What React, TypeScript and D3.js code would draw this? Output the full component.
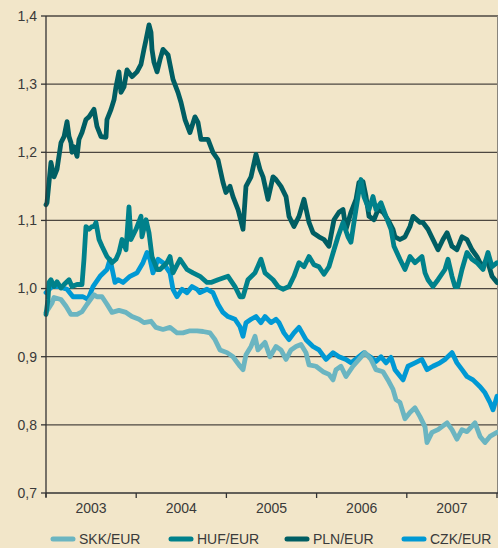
import React, { useEffect, useRef } from "react";
import * as d3 from "d3";

// time in years since start of 2003, value = index
const skk: [number, number][] = [[0,0.965],[.067,0.979],[.089,0.987],[.166,0.984],[.222,0.974],[.277,0.962],[.344,0.962],[.399,0.966],[.455,0.977],[.532,0.991],[.565,0.988],[.621,0.988],[.676,0.977],[.732,0.965],[.809,0.968],[.887,0.965],[.953,0.959],[1.031,0.955],[1.086,0.950],[1.164,0.952],[1.219,0.943],[1.297,0.940],[1.375,0.943],[1.452,0.935],[1.519,0.935],[1.596,0.938],[1.674,0.938],[1.741,0.937],[1.818,0.935],[1.874,0.925],[1.929,0.910],[2.007,0.906],[2.073,0.900],[2.151,0.886],[2.184,0.881],[2.217,0.903],[2.273,0.915],[2.317,0.930],[2.350,0.910],[2.428,0.921],[2.483,0.900],[2.550,0.915],[2.605,0.910],[2.661,0.896],[2.716,0.910],[2.772,0.915],[2.827,0.918],[2.882,0.906],[2.916,0.888],[2.993,0.886],[3.071,0.878],[3.137,0.874],[3.182,0.866],[3.215,0.881],[3.270,0.886],[3.326,0.871],[3.403,0.886],[3.470,0.896],[3.536,0.906],[3.603,0.896],[3.658,0.881],[3.736,0.878],[3.791,0.866],[3.847,0.852],[3.880,0.837],[3.924,0.833],[3.980,0.809],[4.035,0.818],[4.091,0.825],[4.146,0.812],[4.202,0.797],[4.224,0.774],[4.279,0.789],[4.346,0.793],[4.446,0.803],[4.501,0.793],[4.556,0.779],[4.612,0.793],[4.667,0.790],[4.756,0.803],[4.812,0.783],[4.867,0.774],[4.922,0.783],[5.0,0.789]];

const huf: [number, number][] = [[0,0.962],[.022,0.984],[.033,1.009],[.055,1.013],[.089,1.003],[.122,1.010],[.166,1.001],[.200,1.006],[.255,1.013],[.288,1.003],[.344,1.006],[.399,1.006],[.421,1.043],[.443,1.091],[.477,1.087],[.510,1.091],[.532,1.091],[.554,1.097],[.588,1.072],[.621,1.062],[.676,1.047],[.732,1.038],[.776,1.043],[.809,1.053],[.843,1.072],[.887,1.057],[.920,1.120],[.942,1.072],[.998,1.087],[1.053,1.106],[1.064,1.076],[1.109,1.101],[1.142,1.082],[1.175,1.047],[1.231,1.028],[1.264,1.028],[1.341,1.038],[1.375,1.047],[1.408,1.023],[1.486,1.043],[1.563,1.028],[1.630,1.023],[1.707,1.018],[1.785,1.009],[1.829,1.009],[1.907,1.013],[2.018,1.018],[2.095,1.003],[2.151,0.988],[2.184,0.988],[2.239,1.013],[2.317,1.023],[2.383,1.043],[2.428,1.023],[2.517,1.013],[2.572,1.003],[2.627,0.999],[2.694,1.003],[2.749,1.018],[2.805,1.038],[2.860,1.032],[2.916,1.047],[2.971,1.035],[3.026,1.032],[3.082,1.021],[3.137,1.032],[3.193,1.057],[3.237,1.076],[3.293,1.097],[3.348,1.076],[3.381,1.068],[3.414,1.097],[3.459,1.135],[3.492,1.160],[3.525,1.135],[3.581,1.116],[3.625,1.135],[3.658,1.116],[3.714,1.126],[3.769,1.106],[3.825,1.087],[3.858,1.062],[3.924,1.043],[3.980,1.028],[4.035,1.047],[4.091,1.038],[4.168,1.047],[4.202,1.023],[4.235,1.013],[4.290,1.003],[4.346,1.013],[4.423,1.028],[4.457,1.043],[4.501,1.018],[4.534,1.003],[4.567,1.003],[4.612,1.028],[4.667,1.053],[4.723,1.043],[4.778,1.038],[4.845,1.028],[4.900,1.053],[4.945,1.032],[5.0,1.038]];

const pln: [number, number][] = [[0,1.123],[.011,1.126],[.055,1.185],[.089,1.164],[.122,1.175],[.166,1.214],[.200,1.223],[.233,1.245],[.255,1.223],[.277,1.214],[.288,1.200],[.310,1.208],[.344,1.194],[.366,1.219],[.399,1.229],[.443,1.248],[.477,1.252],[.532,1.263],[.565,1.238],[.610,1.223],[.665,1.222],[.676,1.248],[.721,1.263],[.754,1.277],[.776,1.296],[.809,1.318],[.831,1.288],[.865,1.296],[.898,1.321],[.920,1.317],[.953,1.311],[1.009,1.318],[1.053,1.329],[1.086,1.351],[1.109,1.365],[1.142,1.387],[1.164,1.376],[1.175,1.351],[1.197,1.332],[1.231,1.318],[1.264,1.336],[1.297,1.351],[1.353,1.343],[1.408,1.307],[1.463,1.288],[1.497,1.273],[1.541,1.248],[1.596,1.229],[1.652,1.252],[1.685,1.244],[1.718,1.219],[1.796,1.219],[1.851,1.200],[1.907,1.189],[1.962,1.156],[1.995,1.141],[2.040,1.150],[2.073,1.135],[2.129,1.116],[2.184,1.087],[2.217,1.150],[2.273,1.164],[2.328,1.197],[2.372,1.175],[2.406,1.164],[2.461,1.131],[2.517,1.164],[2.550,1.160],[2.605,1.150],[2.661,1.135],[2.694,1.106],[2.749,1.091],[2.805,1.106],[2.860,1.131],[2.916,1.097],[2.960,1.082],[3.026,1.076],[3.082,1.072],[3.137,1.062],[3.193,1.101],[3.248,1.112],[3.293,1.116],[3.326,1.087],[3.381,1.112],[3.437,1.131],[3.470,1.156],[3.514,1.157],[3.548,1.135],[3.581,1.106],[3.636,1.101],[3.681,1.116],[3.736,1.112],[3.791,1.101],[3.847,1.087],[3.869,1.076],[3.924,1.072],[3.980,1.076],[4.035,1.091],[4.069,1.106],[4.146,1.097],[4.179,1.097],[4.235,1.087],[4.290,1.072],[4.346,1.057],[4.401,1.072],[4.446,1.082],[4.501,1.062],[4.556,1.057],[4.612,1.076],[4.667,1.072],[4.723,1.057],[4.778,1.047],[4.834,1.032],[4.889,1.043],[4.945,1.018],[5.0,1.009]];

const czk: [number, number][] = [[0,0.994],[.067,1.003],[.133,1.003],[.233,0.999],[.299,0.988],[.410,0.988],[.466,0.984],[.521,1.003],[.599,1.018],[.676,1.028],[.710,1.043],[.765,1.009],[.798,1.013],[.854,1.009],[.931,1.018],[1.009,1.023],[1.075,1.038],[1.120,1.053],[1.153,1.043],[1.186,1.023],[1.242,1.043],[1.297,1.038],[1.375,1.023],[1.408,0.999],[1.452,0.988],[1.508,0.999],[1.563,0.994],[1.619,1.003],[1.674,0.999],[1.707,0.994],[1.785,0.999],[1.851,0.994],[1.907,0.977],[1.962,0.965],[2.018,0.959],[2.095,0.955],[2.151,0.944],[2.184,0.930],[2.217,0.950],[2.273,0.955],[2.328,0.959],[2.383,0.950],[2.428,0.959],[2.494,0.950],[2.550,0.955],[2.583,0.950],[2.638,0.935],[2.694,0.925],[2.749,0.935],[2.805,0.943],[2.882,0.925],[2.960,0.915],[3.026,0.910],[3.104,0.896],[3.182,0.906],[3.248,0.900],[3.326,0.896],[3.381,0.891],[3.459,0.899],[3.525,0.906],[3.603,0.899],[3.658,0.893],[3.714,0.900],[3.769,0.891],[3.825,0.899],[3.869,0.881],[3.958,0.866],[4.013,0.886],[4.091,0.891],[4.168,0.896],[4.224,0.881],[4.290,0.886],[4.368,0.891],[4.423,0.896],[4.501,0.906],[4.556,0.891],[4.612,0.881],[4.667,0.871],[4.734,0.866],[4.812,0.856],[4.867,0.847],[4.922,0.833],[4.956,0.822],[5.0,0.842]];

const startYear = 2003;
const years = [2003, 2004, 2005, 2006, 2007];
const yTicks = [0.7, 0.8, 0.9, 1.0, 1.1, 1.2, 1.3, 1.4];
const seriesNames = ["SKK/EUR", "HUF/EUR", "PLN/EUR", "CZK/EUR"];
const seriesColors = ["#6bb5c1", "#00818b", "#005e63", "#0099d4"];

const W = 498, H = 548;
const M = { left: 46, right: 497, top: 16, bottom: 493 };

export default function App() {
  const ref = useRef<SVGSVGElement>(null);
  useEffect(() => {
    document.body.style.margin = "0";
    const svg = d3.select(ref.current);
    svg.selectAll("*").remove();
    const font = "'Liberation Sans', Arial, sans-serif";

    const x = d3.scaleLinear().domain([startYear, startYear + 5]).range([M.left, M.right]);
    const y = d3.scaleLinear().domain([0.7, 1.4]).range([M.bottom, M.top]);

    svg.append("rect").attr("width", W).attr("height", H).attr("fill", "#f2e6c9");

    // gridlines
    svg.append("g").selectAll("line").data(yTicks.slice(1)).join("line")
      .attr("x1", M.left).attr("x2", M.right + 1)
      .attr("y1", (d) => y(d)).attr("y2", (d) => y(d))
      .attr("stroke", "#4d4740").attr("stroke-width", 1.3);

    // right border
    svg.append("line").attr("x1", M.right + 0.5).attr("x2", M.right + 0.5)
      .attr("y1", M.top).attr("y2", M.bottom).attr("stroke", "#8a857c").attr("stroke-width", 1);

    // y axis labels + ticks
    const yg = svg.append("g");
    yg.selectAll("line").data(yTicks).join("line")
      .attr("x1", M.left - 5).attr("x2", M.left)
      .attr("y1", (d) => y(d)).attr("y2", (d) => y(d))
      .attr("stroke", "#333").attr("stroke-width", 1.3);
    yg.selectAll("text").data(yTicks).join("text")
      .attr("x", M.left - 9).attr("y", (d) => y(d))
      .attr("dy", "0.35em").attr("text-anchor", "end")
      .attr("font-family", font).attr("font-size", 14).attr("fill", "#3a3a3a")
      .text((d) => d3.format(".1f")(d).replace(".", ","));

    // lines
    const line = d3.line<[number, number]>()
      .x((d) => x(startYear + d[0]))
      .y((d) => y(d[1]));
    const order: [[number, number][], string][] = [
      [pln, seriesColors[2]],
      [czk, seriesColors[3]],
      [skk, seriesColors[0]],
      [huf, seriesColors[1]],
    ];
    const lg = svg.append("g");
    order.forEach(([data, c]) => {
      lg.append("path").datum(data).attr("d", line as any)
        .attr("fill", "none").attr("stroke", c).attr("stroke-width", 4.8)
        .attr("stroke-linejoin", "round").attr("stroke-linecap", "round");
    });

    // axes lines
    svg.append("line").attr("x1", M.left).attr("x2", M.left)
      .attr("y1", M.top).attr("y2", M.bottom + 4).attr("stroke", "#333").attr("stroke-width", 1.3);
    svg.append("line").attr("x1", M.left).attr("x2", M.right + 1)
      .attr("y1", M.bottom).attr("y2", M.bottom).attr("stroke", "#333").attr("stroke-width", 1.3);

    const xt = [...years, startYear + 5];
    svg.append("g").selectAll("line").data(xt).join("line")
      .attr("x1", (d) => x(d)).attr("x2", (d) => x(d))
      .attr("y1", M.bottom).attr("y2", M.bottom + 5)
      .attr("stroke", "#333").attr("stroke-width", 1.3);
    svg.append("g").selectAll("text").data(years).join("text")
      .attr("x", (d) => x(d + 0.5)).attr("y", 513)
      .attr("text-anchor", "middle")
      .attr("font-family", font).attr("font-size", 14).attr("fill", "#3a3a3a")
      .text((d) => String(d));

    // legend
    const legX = [53, 171, 287, 404];
    const leg = svg.append("g");
    seriesNames.forEach((n, i) => {
      leg.append("line").attr("x1", legX[i]).attr("x2", legX[i] + 20)
        .attr("y1", 539).attr("y2", 539)
        .attr("stroke", seriesColors[i]).attr("stroke-width", 5).attr("stroke-linecap", "round");
      leg.append("text").attr("x", legX[i] + 26).attr("y", 539).attr("dy", "0.36em")
        .attr("font-family", font).attr("font-size", 14).attr("fill", "#3a3a3a").text(n);
    });
  }, []);
  return <svg ref={ref} width={W} height={H} style={{ display: "block" }} />;
}
